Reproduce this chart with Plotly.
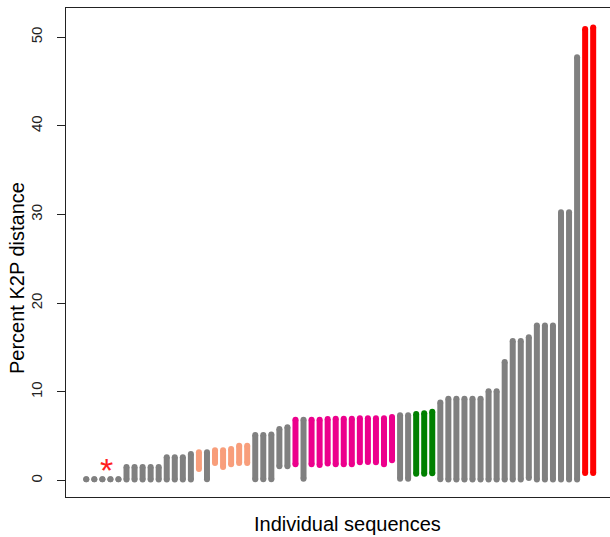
import plotly.graph_objects as go

# Per-sequence K2P distance ranges (percent), in plotted order
seq_index = list(range(1, 65))
dist_min = [0.15, 0.15, 0.15, 0.15, 0.15,
            0.12, 0.12, 0.12, 0.12, 0.12,
            0.12, 0.12, 0.12, 0.12,
            1.32, 0.16, 2.0, 1.55, 1.85, 2.0, 2.0,
            0.16, 0.16, 0.16, 1.62, 1.62,
            1.85, 0.23, 1.85,
            1.78, 1.95, 1.85, 1.85, 1.85, 2.07, 2.12, 2.07, 1.85, 2.3,
            0.23, 0.23,
            0.79, 0.79, 0.85,
            0.15, 0.12, 0.12, 0.12, 0.12, 0.12, 0.12, 0.12,
            0.12, 0.12, 0.12, 0.3, 0.12, 0.12, 0.12,
            0.12, 0.12, 0.12,
            0.87, 0.87]
dist_max = [0.15, 0.15, 0.15, 0.15, 0.15,
            1.55, 1.55, 1.55, 1.55, 1.55,
            2.65, 2.65, 2.65, 3.0,
            3.2, 3.2, 3.43, 3.43, 3.57, 3.95, 3.95,
            5.15, 5.15, 5.2, 5.83, 6.02,
            6.88, 6.88, 6.88,
            6.88, 6.95, 6.99, 6.99, 6.99, 7.03, 7.03, 7.03, 7.03, 7.18,
            7.37, 7.37,
            7.52, 7.6, 7.78,
            8.8, 9.24, 9.24, 9.24, 9.24, 9.24, 10.08, 10.08,
            13.38, 15.75, 15.75, 16.17, 17.5, 17.5, 17.5,
            30.26, 30.26, 47.73,
            50.92, 51.1]
group = (['gray'] * 14 +
         ['orange', 'gray', 'orange', 'orange', 'orange', 'orange', 'orange'] +
         ['gray'] * 5 +
         ['magenta', 'gray', 'magenta'] + ['magenta'] * 10 +
         ['gray'] * 2 + ['green'] * 3 + ['gray'] * 18 + ['red'] * 2)

y_ticks = [0, 10, 20, 30, 40, 50]
star_pos = (3.5, 2.0)

colors = {'gray': '#808080', 'orange': '#F89E7B', 'magenta': '#EC008C',
          'green': '#008000', 'red': '#FF0000'}

fig = go.Figure()
for g, col in colors.items():
    xs, ys = [], []
    for i, lo, hi, gg in zip(seq_index, dist_min, dist_max, group):
        if gg != g:
            continue
        xs += [i, i, None]
        ys += [lo, hi, None]
    fig.add_trace(go.Scatter(x=xs, y=ys, mode='lines+markers',
                             line=dict(color=col, width=6),
                             marker=dict(color=col, size=6),
                             hoverinfo='skip', showlegend=False))

fig.add_annotation(x=star_pos[0], y=star_pos[1], text='*', showarrow=False,
                   font=dict(color='#FF2020', size=34, family='Liberation Sans, Arial'),
                   yanchor='middle', yshift=-7)

fig.add_annotation(xref='paper', yref='paper', x=(347 - 66) / 544, y=(497 - 524) / 489,
                   text='Individual sequences', showarrow=False,
                   font=dict(size=20, color='black', family='Liberation Sans, Arial'),
                   xanchor='center', yanchor='middle')
fig.add_annotation(xref='paper', yref='paper', x=-(66 - 17) / 544, y=(497 - 278) / 489,
                   text='Percent K2P distance', showarrow=False, textangle=-90,
                   font=dict(size=20, color='black', family='Liberation Sans, Arial'),
                   xanchor='center', yanchor='middle')

fig.update_layout(
    width=610, height=537,
    margin=dict(l=66, r=0, t=8, b=40),
    plot_bgcolor='white', paper_bgcolor='white',
    font=dict(family='Liberation Sans, Arial', color='black'),
    xaxis=dict(range=[-1.52, 66.09], showgrid=False, zeroline=False,
               showticklabels=False, ticks='', showline=True, mirror=True,
               linecolor='#222222', linewidth=1),
    yaxis=dict(range=[-1.84, 53.29], tickvals=y_ticks, showgrid=False,
               zeroline=False, ticks='outside', ticklen=8, tickcolor='#222222',
               tickangle=-90, tickfont=dict(size=15, color='#222222'),
               showline=True, linecolor='#222222', linewidth=1,
               ticklabelstandoff=9),
)

fig.write_html('out.html', config={'displayModeBar': False},
               post_script="document.body.style.margin='0px';document.body.style.overflow='hidden';")
